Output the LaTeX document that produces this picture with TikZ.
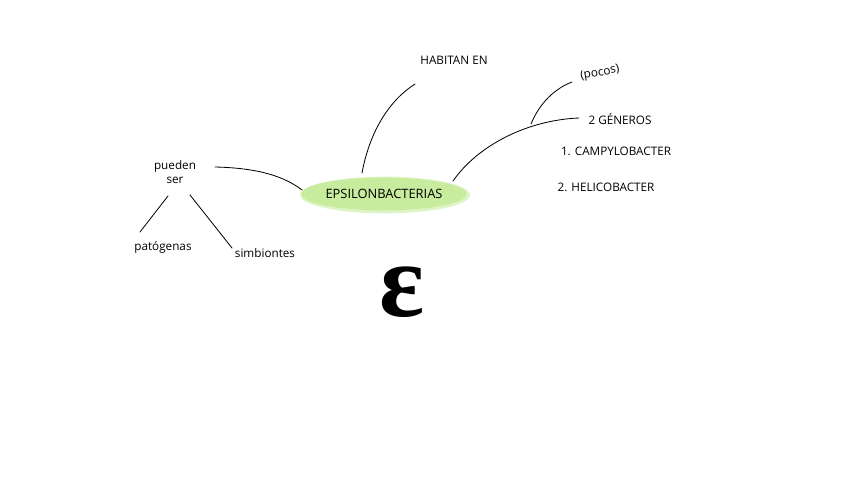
\documentclass[tikz,border=0pt]{standalone}
\usepackage{fontspec}
\setmainfont{Open Sans}
\newfontfamily\greekfont{Liberation Serif}
\usepackage{tikz}
\usetikzlibrary{shapes.geometric,positioning}
\definecolor{leafgreen}{HTML}{C8EC9E}
\definecolor{leafhalo}{HTML}{DDF4C6}

\begin{document}
\begin{tikzpicture}[x=0.03cm, y=-0.03cm,
    txt/.style={font=\fontsize{10}{11.5}\selectfont, inner sep=1pt, align=center},
    blob/.style={ellipse, fill=leafgreen, minimum width=4.9cm, minimum height=0.98cm, inner sep=0pt, font=\fontsize{11}{12}\selectfont},
    halo/.style={ellipse, fill=leafhalo, minimum width=5.1cm, minimum height=1.1cm, inner sep=0pt},
    wire/.style={line width=0.7pt, line cap=round},
]
\useasboundingbox (0,0) rectangle (848,477);
% Nodes
\node[halo]  (halo)    at (385,195) {};
\node[blob]  (epsilon) at (384,194) {EPSILONBACTERIAS};
\node[txt]   (habitan) at (454,60)  {HABITAN EN};
\node[txt]   (pueden)  at (175,172) {pueden\\ser};
\node[txt]   (pato)    at (163,247) {patógenas};
\node[txt]   (simbio)  at (265,253) {simbiontes};
\node[txt, rotate=10] (pocos) at (600,73) {(pocos)};
\node[txt]   (generos) at (620,119) {2 GÉNEROS};
\node[txt]   (campy)   at (616,151) {1. CAMPYLOBACTER};
\node[txt]   (helico)  at (606,187) {2. HELICOBACTER};
\node[font=\greekfont\bfseries\fontsize{90}{90}\selectfont, inner sep=0pt] (letra) at (402,292) {ε};
% Ends of the strokes
\coordinate (e-top)   at (362,173);
\coordinate (e-left)  at (302,190);
\coordinate (e-right) at (453,181);
\coordinate (h-end)   at (415,84);
\coordinate (p-end)   at (215,167);
\coordinate (p-l)     at (168,196);
\coordinate (p-r)     at (190,195);
\coordinate (pa-end)  at (140,232);
\coordinate (si-end)  at (232,248);
\coordinate (g-end)   at (579,118);
\coordinate (fork)    at (531,124);
\coordinate (po-end)  at (572,82);
% Connections
\draw[wire] (e-top) .. controls (370,130) and (390,100) .. (h-end);
\draw[wire] (p-end) .. controls (260,168) and (285,177) .. (e-left);
\draw[wire] (p-l) -- (pa-end);
\draw[wire] (p-r) -- (si-end);
\draw[wire] (e-right) .. controls (478,145) and (528,120) .. (g-end);
\draw[wire] (fork) .. controls (540,102) and (556,88) .. (po-end);
\end{tikzpicture}
\end{document}
